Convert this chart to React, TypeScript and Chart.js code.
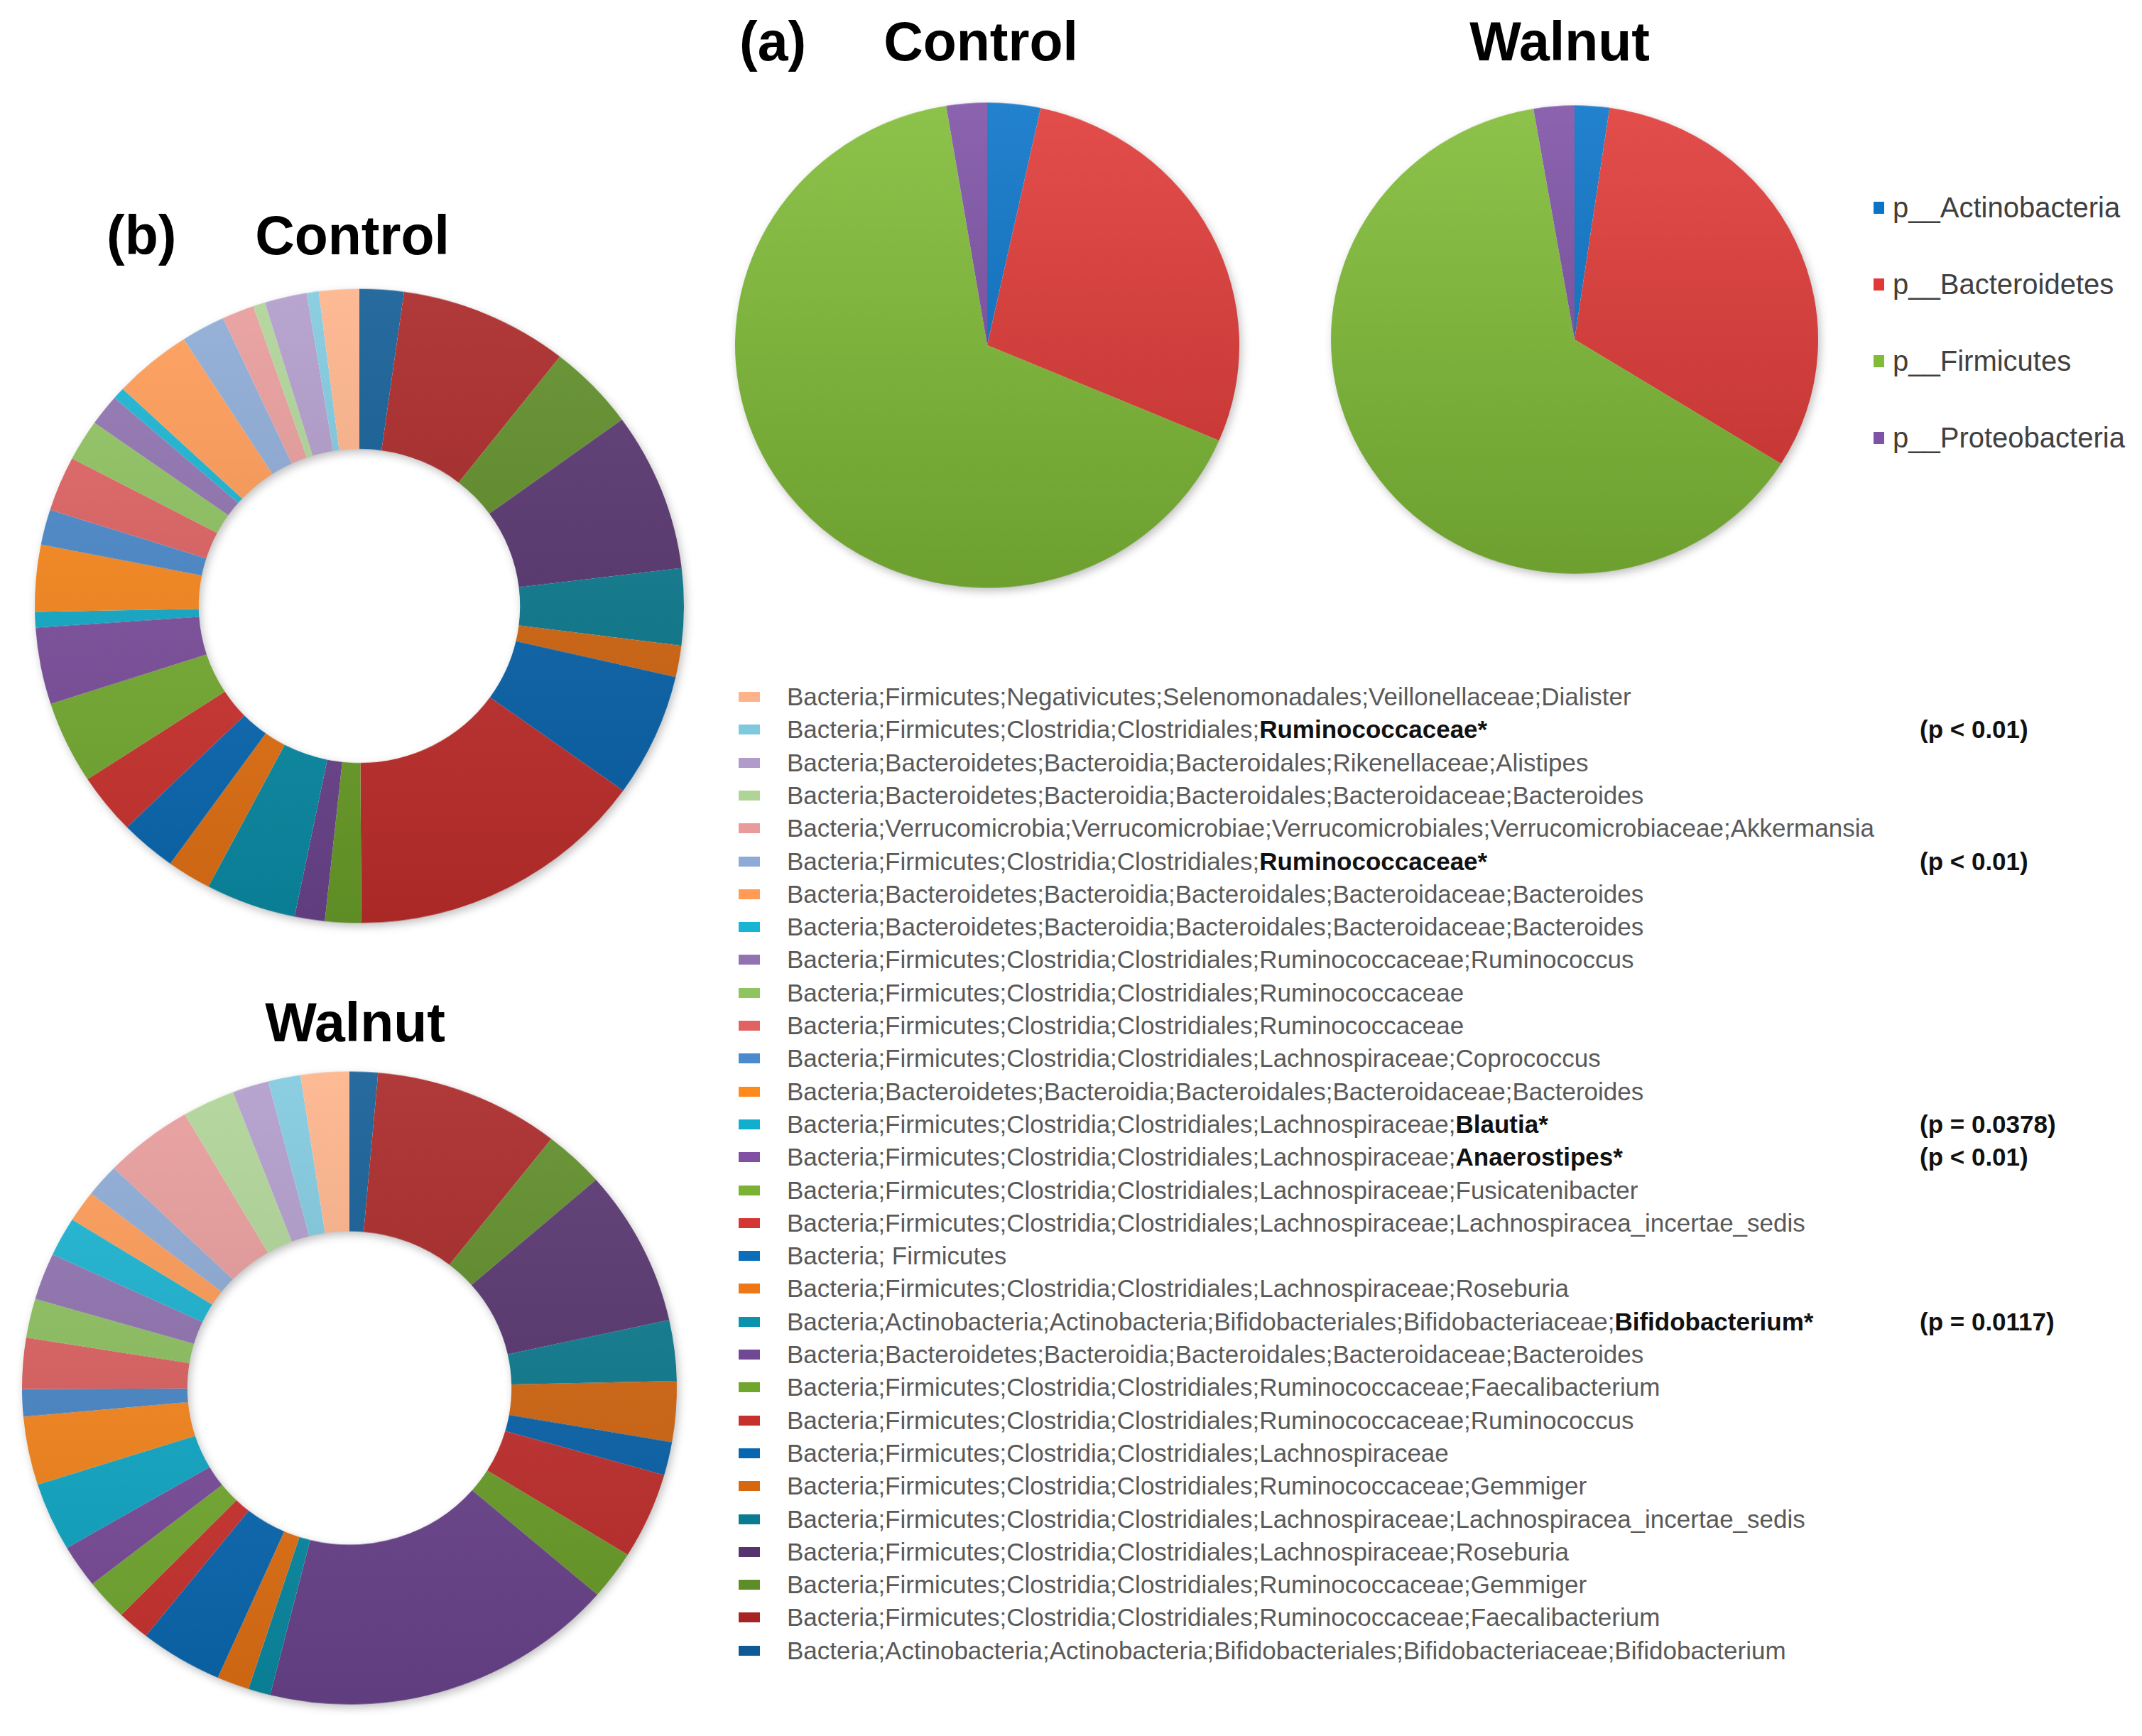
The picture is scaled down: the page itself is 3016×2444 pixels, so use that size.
import React, { useEffect, useRef } from "react";
import { Chart, registerables } from "chart.js";

Chart.register(...registerables);

// ---------- Panel (a): phylum level ----------
const phylumLabels = ["p__Actinobacteria", "p__Bacteroidetes", "p__Firmicutes", "p__Proteobacteria"];
const phylumColors = ["#0B74C8", "#E03A37", "#80BC37", "#7E52A6"];
const phylumControl = [3.4, 28.0, 65.9, 2.6];
const phylumWalnut = [2.3, 31.6, 63.4, 2.7];

// ---------- Panel (b): genus level (data order = clockwise from 12 o'clock) ----------
const taxaLabels = [
  "Bacteria;Actinobacteria;Actinobacteria;Bifidobacteriales;Bifidobacteriaceae;Bifidobacterium",
  "Bacteria;Firmicutes;Clostridia;Clostridiales;Ruminococcaceae;Faecalibacterium",
  "Bacteria;Firmicutes;Clostridia;Clostridiales;Ruminococcaceae;Gemmiger",
  "Bacteria;Firmicutes;Clostridia;Clostridiales;Lachnospiraceae;Roseburia",
  "Bacteria;Firmicutes;Clostridia;Clostridiales;Lachnospiraceae;Lachnospiracea_incertae_sedis",
  "Bacteria;Firmicutes;Clostridia;Clostridiales;Ruminococcaceae;Gemmiger",
  "Bacteria;Firmicutes;Clostridia;Clostridiales;Lachnospiraceae",
  "Bacteria;Firmicutes;Clostridia;Clostridiales;Ruminococcaceae;Ruminococcus",
  "Bacteria;Firmicutes;Clostridia;Clostridiales;Ruminococcaceae;Faecalibacterium",
  "Bacteria;Bacteroidetes;Bacteroidia;Bacteroidales;Bacteroidaceae;Bacteroides",
  "Bacteria;Actinobacteria;Actinobacteria;Bifidobacteriales;Bifidobacteriaceae;Bifidobacterium*",
  "Bacteria;Firmicutes;Clostridia;Clostridiales;Lachnospiraceae;Roseburia",
  "Bacteria; Firmicutes",
  "Bacteria;Firmicutes;Clostridia;Clostridiales;Lachnospiraceae;Lachnospiracea_incertae_sedis",
  "Bacteria;Firmicutes;Clostridia;Clostridiales;Lachnospiraceae;Fusicatenibacter",
  "Bacteria;Firmicutes;Clostridia;Clostridiales;Lachnospiraceae;Anaerostipes*",
  "Bacteria;Firmicutes;Clostridia;Clostridiales;Lachnospiraceae;Blautia*",
  "Bacteria;Bacteroidetes;Bacteroidia;Bacteroidales;Bacteroidaceae;Bacteroides",
  "Bacteria;Firmicutes;Clostridia;Clostridiales;Lachnospiraceae;Coprococcus",
  "Bacteria;Firmicutes;Clostridia;Clostridiales;Ruminococcaceae",
  "Bacteria;Firmicutes;Clostridia;Clostridiales;Ruminococcaceae",
  "Bacteria;Firmicutes;Clostridia;Clostridiales;Ruminococcaceae;Ruminococcus",
  "Bacteria;Bacteroidetes;Bacteroidia;Bacteroidales;Bacteroidaceae;Bacteroides",
  "Bacteria;Bacteroidetes;Bacteroidia;Bacteroidales;Bacteroidaceae;Bacteroides",
  "Bacteria;Firmicutes;Clostridia;Clostridiales;Ruminococcaceae*",
  "Bacteria;Verrucomicrobia;Verrucomicrobiae;Verrucomicrobiales;Verrucomicrobiaceae;Akkermansia",
  "Bacteria;Bacteroidetes;Bacteroidia;Bacteroidales;Bacteroidaceae;Bacteroides",
  "Bacteria;Bacteroidetes;Bacteroidia;Bacteroidales;Rikenellaceae;Alistipes",
  "Bacteria;Firmicutes;Clostridia;Clostridiales;Ruminococcaceae*",
  "Bacteria;Firmicutes;Negativicutes;Selenomonadales;Veillonellaceae;Dialister",
];
const taxaBold = [
  "", "", "", "", "", "", "", "", "", "",
  "Bifidobacterium*", "", "", "", "", "Anaerostipes*", "Blautia*", "", "", "",
  "", "", "", "", "Ruminococcaceae*", "", "", "", "Ruminococcaceae*", "",
];
const taxaPValues = [
  "", "", "", "", "", "", "", "", "", "",
  "(p = 0.0117)", "", "", "", "", "(p < 0.01)", "(p = 0.0378)", "", "", "",
  "", "", "", "", "(p < 0.01)", "", "", "", "(p < 0.01)", "",
];
const taxaColors = [
  "#0F5A94", "#A82424", "#5E8C26", "#573470", "#0A7C91", "#D8680F",
  "#0866B0", "#C8302E", "#70A62C", "#714894", "#0A93AE", "#EF7715",
  "#0B6EBB", "#D63633", "#7AB334", "#8050A2", "#10AFCE", "#FF8A1C",
  "#4A8ACD", "#E26262", "#90C460", "#9173B2", "#18B4D4", "#FF9B55",
  "#8DABD6", "#E99B9B", "#AFD596", "#B09BCB", "#7FC9DF", "#FDB289",
];
const genusControl = [
  2.2, 8.4, 4.4, 8.1, 3.9, 1.6, 6.3, 15.0, 1.8, 1.5,
  4.5, 2.2, 2.8, 3.1, 4.2, 3.9, 0.8, 3.4, 1.8, 2.8,
  2.1, 1.6, 0.6, 3.9, 2.2, 1.6, 0.6, 2.1, 0.6, 2.0,
];
const genusWalnut = [
  1.4, 9.2, 3.0, 8.0, 3.1, 3.1, 1.7, 4.4, 2.5, 17.6,
  1.1, 1.6, 4.1, 1.6, 2.1, 2.2, 3.5, 3.5, 1.4, 2.6,
  2.0, 2.4, 2.0, 1.6, 1.7, 4.4, 2.6, 1.8, 1.6, 2.4,
];

// ---------- helpers ----------
function shade(hex: string, amt: number): string {
  const n = parseInt(hex.slice(1), 16);
  let r = (n >> 16) & 255, g = (n >> 8) & 255, b = n & 255;
  const t = amt > 0 ? 255 : 0;
  const p = Math.abs(amt);
  r = Math.round(r + (t - r) * p);
  g = Math.round(g + (t - g) * p);
  b = Math.round(b + (t - b) * p);
  return `rgb(${r},${g},${b})`;
}

function gradientFor(chart: any, hex: string) {
  const a = chart.chartArea;
  if (!a) return hex;
  const g = chart.ctx.createLinearGradient(0, a.top, 0, a.bottom);
  g.addColorStop(0, shade(hex, 0.1));
  g.addColorStop(1, shade(hex, -0.15));
  return g;
}

const shadowPlugin = {
  id: "softShadow",
  beforeDatasetsDraw(chart: any) {
    const meta = chart.getDatasetMeta(0);
    if (!meta || !meta.data.length) return;
    const arc = meta.data[0];
    const { x, y, outerRadius, innerRadius } = arc;
    const ctx = chart.ctx;
    ctx.save();
    ctx.shadowColor = "rgba(0,0,0,0.28)";
    ctx.shadowBlur = 14;
    ctx.shadowOffsetX = 3;
    ctx.shadowOffsetY = 5;
    ctx.fillStyle = "#ffffff";
    ctx.beginPath();
    ctx.arc(x, y, outerRadius - 1, 0, Math.PI * 2);
    if (innerRadius > 0) {
      ctx.arc(x, y, innerRadius + 1, 0, Math.PI * 2, true);
    }
    ctx.fill("evenodd");
    ctx.restore();
  },
};

type PieProps = {
  values: number[];
  colors: string[];
  labels: string[];
  cutout: string;
  cx: number;
  cy: number;
  rx: number;
  ry: number;
};

function PieChart({ values, colors, labels, cutout, cx, cy, rx, ry }: PieProps) {
  const ref = useRef<HTMLCanvasElement | null>(null);
  const pad = 16;
  const size = 2 * rx + 2 * pad;
  const k = ry / rx;
  useEffect(() => {
    if (!ref.current) return;
    const chart = new Chart(ref.current, {
      type: "doughnut",
      data: {
        labels,
        datasets: [
          {
            data: values,
            backgroundColor: (c: any) => gradientFor(c.chart, colors[c.dataIndex]),
            borderWidth: 0,
          },
        ],
      },
      options: {
        responsive: false,
        animation: false,
        devicePixelRatio: 1,
        cutout,
        layout: { padding: pad },
        plugins: { legend: { display: false }, tooltip: { enabled: false } },
      },
      plugins: [shadowPlugin],
    });
    return () => chart.destroy();
  }, []);
  return (
    <canvas
      ref={ref}
      width={size}
      height={size}
      style={{
        position: "absolute",
        left: cx - rx - pad,
        top: cy - (rx + pad) * k,
        width: size,
        height: size * k,
      }}
    />
  );
}

const titleStyle: React.CSSProperties = {
  position: "absolute",
  fontFamily: "'Liberation Sans', Arial, sans-serif",
  fontWeight: 700,
  fontSize: 77,
  lineHeight: "77px",
  color: "#000",
  whiteSpace: "nowrap",
};

function Title({ text, cx, cy, left }: { text: string; cx?: number; cy: number; left?: number }) {
  if (left !== undefined) {
    return <div style={{ ...titleStyle, left, top: cy - 38 }}>{text}</div>;
  }
  return (
    <div style={{ ...titleStyle, left: (cx as number) - 400, width: 800, textAlign: "center", top: cy - 38 }}>
      {text}
    </div>
  );
}

export default function App() {
  const rowH = 46.3;
  const row0 = 981;
  const legendOrder = taxaLabels.map((_, i) => taxaLabels.length - 1 - i);
  return (
    <div
      style={{
        position: "absolute",
        left: 0,
        top: 0,
        width: 3016,
        height: 2444,
        background: "#ffffff",
        overflow: "hidden",
        fontFamily: "'Liberation Sans', Arial, sans-serif",
      }}
    >
      {/* Panel (b) */}
      <Title text="(b)" left={150} cy={331} />
      <Title text="Control" cx={496} cy={331} />
      <Title text="Walnut" cx={500} cy={1439} />
      <PieChart values={genusControl} colors={taxaColors} labels={taxaLabels} cutout="49.5%" cx={506} cy={853} rx={457} ry={446} />
      <PieChart values={genusWalnut} colors={taxaColors} labels={taxaLabels} cutout="49.5%" cx={492} cy={1954} rx={461} ry={446} />

      {/* Panel (a) */}
      <Title text="(a)" left={1041} cy={58} />
      <Title text="Control" cx={1381} cy={58} />
      <Title text="Walnut" cx={2196} cy={58} />
      <PieChart values={phylumControl} colors={phylumColors} labels={phylumLabels} cutout="0%" cx={1390} cy={486} rx={355} ry={342} />
      <PieChart values={phylumWalnut} colors={phylumColors} labels={phylumLabels} cutout="0%" cx={2217} cy={478} rx={343} ry={330} />

      {/* Phylum legend */}
      {phylumLabels.map((lab, i) => (
        <div key={lab} style={{ position: "absolute", left: 2638, top: 292 + i * 108 - 24, height: 48, display: "flex", alignItems: "center" }}>
          <div style={{ width: 15, height: 17, background: phylumColors[i], marginRight: 12 }} />
          <div style={{ fontSize: 40, color: "#404040", whiteSpace: "nowrap" }}>{lab}</div>
        </div>
      ))}

      {/* Genus legend (reversed order, as in the reference) */}
      {legendOrder.map((idx, k) => {
        const lab = taxaLabels[idx];
        const bold = taxaBold[idx];
        const prefix = bold ? lab.slice(0, lab.length - bold.length) : lab;
        const y = row0 + k * rowH;
        return (
          <React.Fragment key={k}>
            <div style={{ position: "absolute", left: 1040, top: y - 7, width: 30, height: 14, background: taxaColors[idx] }} />
            <div
              style={{
                position: "absolute",
                left: 1108,
                top: y - 22,
                height: 44,
                lineHeight: "44px",
                fontSize: 35,
                color: "#595959",
                whiteSpace: "nowrap",
              }}
            >
              {prefix}
              {bold ? <span style={{ fontWeight: 700, color: "#111" }}>{bold}</span> : null}
            </div>
            {taxaPValues[idx] ? (
              <div
                style={{
                  position: "absolute",
                  left: 2703,
                  top: y - 22,
                  height: 44,
                  lineHeight: "44px",
                  fontSize: 35,
                  fontWeight: 700,
                  color: "#111",
                  whiteSpace: "nowrap",
                }}
              >
                {taxaPValues[idx]}
              </div>
            ) : null}
          </React.Fragment>
        );
      })}
    </div>
  );
}
